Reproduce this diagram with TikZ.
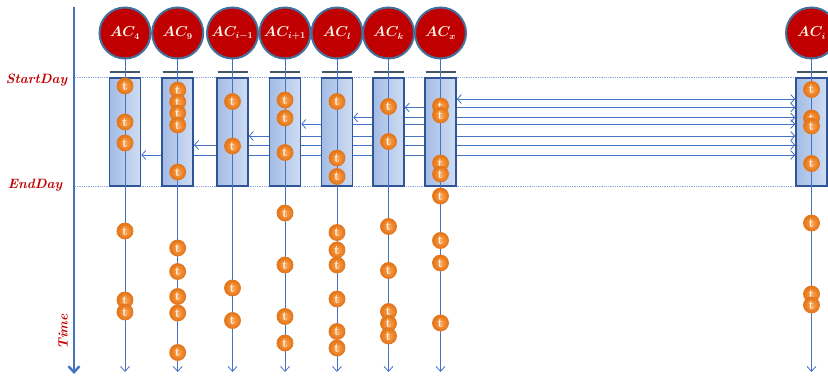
\documentclass[tikz,border=0pt]{standalone}
\usetikzlibrary{arrows.meta}

\definecolor{acred}{HTML}{C00000}
\definecolor{acrim}{HTML}{41719C}
\definecolor{linkblue}{HTML}{4472C4}
\definecolor{boxedge}{HTML}{2F5597}
\definecolor{boxlight}{HTML}{CFDDF3}
\definecolor{boxdark}{HTML}{A3BCE5}
\definecolor{barcol}{HTML}{44546A}
\definecolor{daygray}{HTML}{8FAADC}
\definecolor{ballin}{HTML}{F9A55A}
\definecolor{ballout}{HTML}{E6730F}
\definecolor{ballrim}{HTML}{E07A2A}
\definecolor{tokentext}{HTML}{FFF2E2}
\definecolor{agenttext}{HTML}{FFF6EA}

\tikzset{
  agent/.style={circle, fill=acred, draw=acrim, line width=2pt,
    minimum size=51pt, inner sep=0pt, text=agenttext,
    font=\fontsize{13.5}{15}\selectfont\boldmath},
  window/.style={draw=boxedge, line width=1.6pt, left color=boxdark,
    right color=boxlight, minimum width=31pt, minimum height=108pt,
    inner sep=0pt},
  topbar/.style={draw=barcol, line width=2pt},
  lifeline/.style={draw=linkblue, line width=0.8pt,
    -{Straight Barb[length=5pt,width=9pt]}},
  token/.style={circle, inner color=ballin, outer color=ballout,
    draw=ballrim, line width=0.8pt, minimum size=16pt, inner sep=0pt,
    text=tokentext, font=\fontsize{13}{13}\selectfont\bfseries},
  msg/.style={draw=linkblue, line width=0.8pt,
    {Straight Barb[length=4pt,width=9pt]}-{Straight Barb[length=4pt,width=9pt]}},
  dayrule/.style={draw=daygray, densely dotted, line width=0.8pt},
  daylabel/.style={text=acred, font=\fontsize{13.5}{15}\selectfont\bfseries\itshape},
  timeaxis/.style={draw=linkblue, line width=2.4pt,
    -{Straight Barb[length=6pt,width=11pt]}}
}

\begin{document}
\begin{tikzpicture}[x=1pt, y=-1pt]
  \useasboundingbox (0,0) rectangle (828,377);
  \clip (0,0) rectangle (828,377);

  % time axis and day boundaries
  \coordinate (axtop) at (74,7);
  \coordinate (axbot) at (74,374);
  \draw[timeaxis] (axtop) -- (axbot);

  \coordinate (sdl) at (75,77.5);
  \coordinate (sdr) at (828,77.5);
  \coordinate (edl) at (75,186.5);
  \coordinate (edr) at (828,186.5);
  \draw[dayrule] (sdl) -- (sdr);
  \draw[dayrule] (edl) -- (edr);

  \node[daylabel] (startday) at (36.5,80) {StartDay};
  \node[daylabel] (endday) at (35,185.5) {EndDay};
  \node[daylabel, rotate=90] (timelbl) at (63,332) {Time};

  % agents: name / x / label
  \foreach \n/\x/\l in {a/125/{AC_4}, b/177.7/{AC_9}, c/232.5/{AC_{i-1}},
      d/285/{AC_{i+1}}, e/337/{AC_l}, f/388.5/{AC_k}, g/440.5/{AC_x},
      h/811.5/{AC_i}}{
    \node[agent] (ac\n) at (\x,33) {$\l$};
    \node[window] (w\n) at (\x,132) {};
    \draw[topbar] ([xshift=-15pt,yshift=5pt]w\n.north) -- ([xshift=15pt,yshift=5pt]w\n.north);
  }

  % exchanges between AC_i and the other agents within the day
  \draw[msg] (wg.east |- 0,99)    -- (wh.west |- 0,99);
  \draw[msg] (wf.east |- 0,107.5) -- (wh.west |- 0,107.5);
  \draw[msg] (we.east |- 0,117.5) -- (wh.west |- 0,117.5);
  \draw[msg] (wd.east |- 0,124)   -- (wh.west |- 0,124);
  \draw[msg] (wc.east |- 0,136)   -- (wh.west |- 0,136);
  \draw[msg] (wb.east |- 0,145)   -- (wh.west |- 0,145);
  \draw[msg] (wa.east |- 0,155)   -- (wh.west |- 0,155);

  % redraw the windows over the exchange lines
  \foreach \n in {b,c,d,e,f,g}{
    \node[window] at (w\n) {};
  }

  % lifelines
  \foreach \n in {a,b,c,d,e,f,g,h}{
    \coordinate (end\n) at (ac\n.center |- 0,372);
    \draw[lifeline] (ac\n.south) -- (end\n);
  }

  % transactions on each lifeline: name / y positions
  \foreach \n/\ys in {
      a/{86,122,143,231,300,312},
      b/{90,102,113,125,172,248,271.5,296.5,313,352.5},
      c/{101.5,146,288,320.5},
      d/{100,118,152.5,213,265,316.5,343},
      e/{101.5,158,176.5,232.5,250,265,299,331.5,348},
      f/{106.5,141.5,226.5,270.5,311.5,323.5,336},
      g/{106,115,163,174,196,240.5,263,323},
      h/{89.5,118,126,163.5,223,294,305}}{
    \foreach \y [count=\k] in \ys {
      \node[token] (t\n\k) at (ac\n.center |- 0,\y) {t};
    }
  }
\end{tikzpicture}
\end{document}
